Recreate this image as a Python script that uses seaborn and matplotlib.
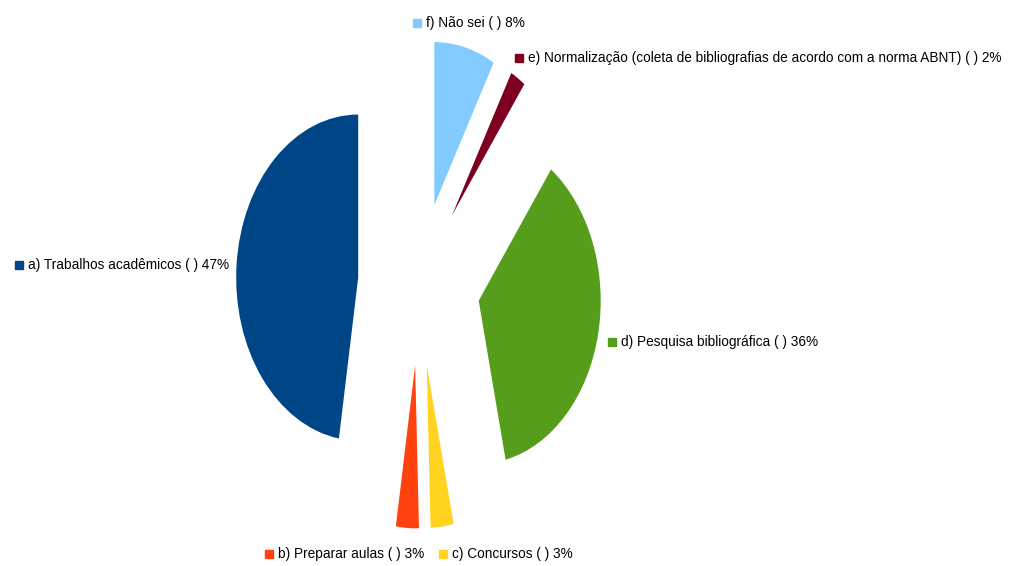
import matplotlib
matplotlib.use('Agg')
import matplotlib.pyplot as plt
import seaborn as sns
from matplotlib import font_manager

# Data (clockwise from 12 o'clock)
labels = ['f) Não sei ( ) 8%',
          'e) Normalização (coleta de bibliografias de acordo com a norma ABNT) ( ) 2%',
          'd) Pesquisa bibliográfica ( ) 36%',
          'c) Concursos ( ) 3%',
          'b) Preparar aulas ( ) 3%',
          'a) Trabalhos acadêmicos ( ) 47%']
values = [8, 2, 36, 3, 3, 47]
colors = ['#83caff', '#7e0021', '#579d1c', '#ffd320', '#ff420e', '#004586']

# label anchor points in pixels (square marker centre)
label_px = [(417, 23), (519, 58), (612, 342), (443, 554), (269, 554), (19, 265)]

W, H = 1010, 566
cx, cy = 419, 284      # pie centre in pixels
rx, ry = 122, 163      # ellipse radii in pixels

sns.set_theme(style='white')
names = {f.name for f in font_manager.fontManager.ttflist}
fam = ['Liberation Sans Narrow', 'Liberation Sans', 'DejaVu Sans']
fam = [f for f in fam if f in names] or ['DejaVu Sans']
plt.rcParams['font.family'] = fam

fig = plt.figure(figsize=(W / 100, H / 100), dpi=100)
ax = fig.add_axes([0, 0, 1, 1])
ax.pie(values, colors=colors, startangle=90, counterclock=False,
       explode=[0.5] * len(values), radius=1,
       wedgeprops=dict(linewidth=0, antialiased=True))
ax.set_aspect('auto')
ax.set_xlim(-cx / rx, (W - cx) / rx)
ax.set_ylim(-(H - cy) / ry, cy / ry)
ax.axis('off')

for lab, col, (px, py) in zip(labels, colors, label_px):
    fx, fy = px / W, 1 - py / H
    fig.add_artist(plt.Line2D([fx], [fy], marker='s', markersize=6.3,
                              color=col, linestyle='none',
                              transform=fig.transFigure))
    fig.text(fx + 9 / W, fy, lab, ha='left', va='center', fontsize=9.8,
             color='black')

fig.savefig('out.png', dpi=100, facecolor='white')
